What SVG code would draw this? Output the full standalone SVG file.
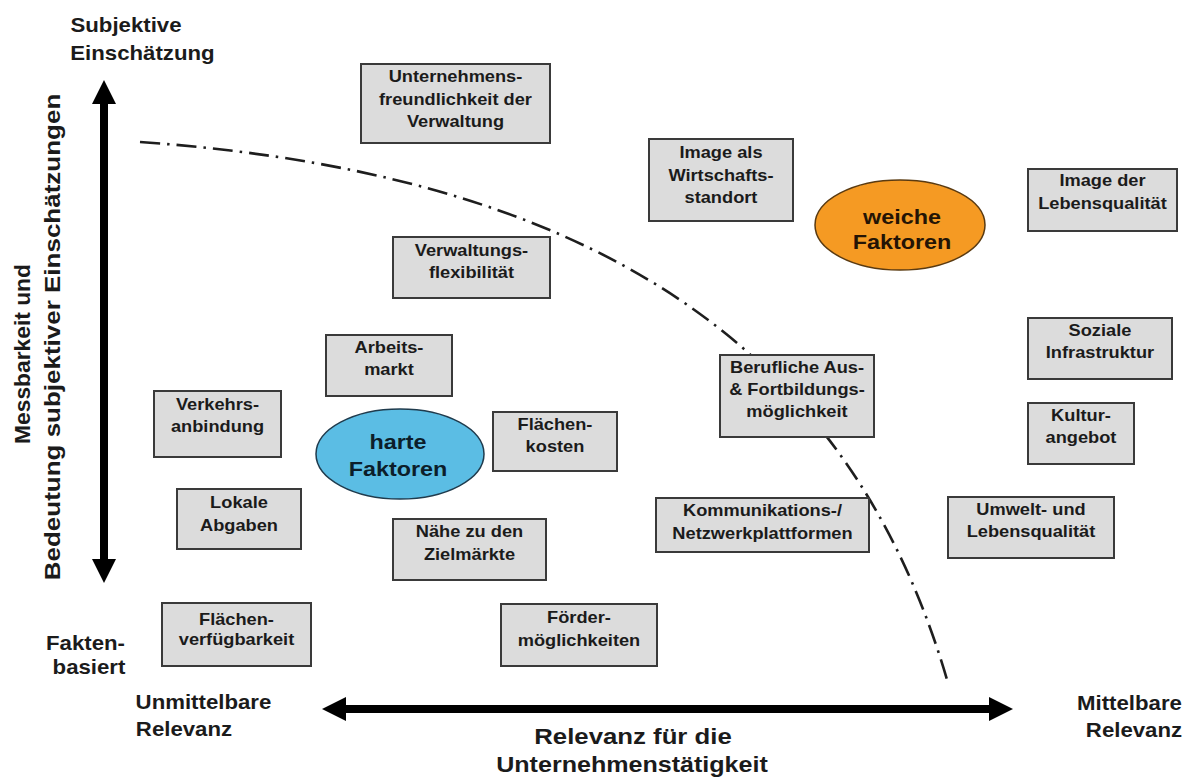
<svg xmlns="http://www.w3.org/2000/svg" width="1186" height="780" viewBox="0 0 1186 780">
<style>
  text { font-family: "Liberation Sans", Arial, sans-serif; font-weight: bold; fill: #1b1b1b; text-anchor: middle; }
  .sx { transform-box: fill-box; transform-origin: center; transform: scaleX(1.14); }
  .box rect { fill: #dcdcdc; stroke: #3a3a3a; stroke-width: 2; }
  .box text { font-size: 16px; }
  .lbl { font-size: 19.5px; }
  .big { font-size: 22px; }
  .ell { font-size: 20.5px; }
  .rot { font-size: 22.8px; }
  .axis { stroke: #000; stroke-width: 8; fill: none; marker-start: url(#ah); marker-end: url(#ah); }
  .curve { fill: none; stroke: #1e1e1e; stroke-width: 2.6; stroke-dasharray: 20 7 2.5 7; }
</style>
<defs>
  <marker id="ah" viewBox="0 0 24 24" refX="0" refY="12" markerWidth="24" markerHeight="24" markerUnits="userSpaceOnUse" orient="auto-start-reverse">
    <path d="M0,0 L24,12 L0,24 z" fill="#000"/>
  </marker>
</defs>
<rect width="1186" height="780" fill="#ffffff"/>

<g id="connectors">
  <line class="axis" x1="104" y1="104" x2="104" y2="559"/>
  <line class="axis" x1="346" y1="709" x2="989" y2="709"/>
  <path class="curve" d="M140,142 C640,177 861,383 948,683"/>
</g>

<g id="axis-labels">
  <text class="lbl sx" x="126" y="32">Subjektive</text>
  <text class="lbl sx" x="142.5" y="60">Einschätzung</text>
  <text class="lbl sx" x="85.5" y="650">Fakten-</text>
  <text class="lbl sx" x="89" y="674">basiert</text>
  <text class="lbl sx" x="203.5" y="709">Unmittelbare</text>
  <text class="lbl sx" x="184" y="736">Relevanz</text>
  <text class="lbl sx" x="1129.5" y="710">Mittelbare</text>
  <text class="lbl sx" x="1134" y="737">Relevanz</text>
  <text class="big sx" x="633" y="744" style="font-size:22.6px">Relevanz für die</text>
  <text class="big sx" x="632" y="772">Unternehmenstätigkeit</text>
  <text class="rot" transform="translate(30,354) rotate(-90)" x="0" y="0">Messbarkeit und</text>
  <text class="rot" transform="translate(60,337) rotate(-90) scale(1.14,1)" x="0" y="0">Bedeutung subjektiver Einschätzungen</text>
</g>

<g id="weiche-faktoren">
  <ellipse cx="900" cy="225" rx="85" ry="45" fill="#f59a23" stroke="#5a3a10" stroke-width="1.5"/>
  <text class="ell sx" x="902" y="224" style="fill:#241405">weiche</text>
  <text class="ell sx" x="902" y="249" style="fill:#241405">Faktoren</text>
</g>
<g id="harte-faktoren">
  <ellipse cx="400" cy="454" rx="84" ry="45" fill="#5bbde4" stroke="#1f3b4d" stroke-width="1.5"/>
  <text class="ell sx" x="398" y="449" style="fill:#0c1e2a">harte</text>
  <text class="ell sx" x="398" y="476" style="fill:#0c1e2a">Faktoren</text>
</g>

<g id="n-unternehmensfreundlichkeit" class="box">
  <rect x="361" y="64" width="189" height="79"/>
  <text class="sx" x="455.5" y="82">Unternehmens-</text>
  <text class="sx" x="455.5" y="105">freundlichkeit der</text>
  <text class="sx" x="455.5" y="127">Verwaltung</text>
</g>
<g id="n-image-wirtschaftsstandort" class="box">
  <rect x="649" y="139" width="144" height="82"/>
  <text class="sx" x="721" y="158">Image als</text>
  <text class="sx" x="721" y="181">Wirtschafts-</text>
  <text class="sx" x="721" y="203">standort</text>
</g>
<g id="n-image-lebensqualitaet" class="box">
  <rect x="1028" y="169" width="149" height="62"/>
  <text class="sx" x="1102.5" y="186">Image der</text>
  <text class="sx" x="1102.5" y="209">Lebensqualität</text>
</g>
<g id="n-verwaltungsflexibilitaet" class="box">
  <rect x="393" y="237" width="157" height="61"/>
  <text class="sx" x="471.5" y="256">Verwaltungs-</text>
  <text class="sx" x="471.5" y="278">flexibilität</text>
</g>
<g id="n-soziale-infrastruktur" class="box">
  <rect x="1028" y="318" width="144" height="61"/>
  <text class="sx" x="1100" y="336">Soziale</text>
  <text class="sx" x="1100" y="358">Infrastruktur</text>
</g>
<g id="n-arbeitsmarkt" class="box">
  <rect x="326" y="335" width="126" height="61"/>
  <text class="sx" x="389" y="353">Arbeits-</text>
  <text class="sx" x="389" y="375">markt</text>
</g>
<g id="n-berufliche-fortbildung" class="box">
  <rect x="720" y="355" width="154" height="82"/>
  <text class="sx" x="797" y="373">Berufliche Aus-</text>
  <text class="sx" x="797" y="395">&amp; Fortbildungs-</text>
  <text class="sx" x="797" y="417">möglichkeit</text>
</g>
<g id="n-verkehrsanbindung" class="box">
  <rect x="154" y="391" width="127" height="66"/>
  <text class="sx" x="217.5" y="410">Verkehrs-</text>
  <text class="sx" x="217.5" y="432">anbindung</text>
</g>
<g id="n-kulturangebot" class="box">
  <rect x="1028" y="403" width="106" height="61"/>
  <text class="sx" x="1081" y="421">Kultur-</text>
  <text class="sx" x="1081" y="443">angebot</text>
</g>
<g id="n-flaechenkosten" class="box">
  <rect x="493" y="412" width="124" height="59"/>
  <text class="sx" x="555" y="430">Flächen-</text>
  <text class="sx" x="555" y="452">kosten</text>
</g>
<g id="n-lokale-abgaben" class="box">
  <rect x="177" y="489" width="124" height="60"/>
  <text class="sx" x="239" y="508">Lokale</text>
  <text class="sx" x="239" y="531">Abgaben</text>
</g>
<g id="n-umwelt-lebensqualitaet" class="box">
  <rect x="948" y="497" width="166" height="61"/>
  <text class="sx" x="1031" y="515">Umwelt- und</text>
  <text class="sx" x="1031" y="537">Lebensqualität</text>
</g>
<g id="n-kommunikation" class="box">
  <rect x="656" y="498" width="213" height="54"/>
  <text class="sx" x="762.5" y="516">Kommunikations-/</text>
  <text class="sx" x="762.5" y="539">Netzwerkplattformen</text>
</g>
<g id="n-naehe-zielmaerkte" class="box">
  <rect x="393" y="519" width="153" height="61"/>
  <text class="sx" x="469.5" y="537">Nähe zu den</text>
  <text class="sx" x="469.5" y="560">Zielmärkte</text>
</g>
<g id="n-flaechenverfuegbarkeit" class="box">
  <rect x="162" y="603" width="149" height="63"/>
  <text class="sx" x="236.5" y="625">Flächen-</text>
  <text class="sx" x="236.5" y="645">verfügbarkeit</text>
</g>
<g id="n-foerdermoeglichkeiten" class="box">
  <rect x="501" y="604" width="156" height="62"/>
  <text class="sx" x="579" y="623">Förder-</text>
  <text class="sx" x="579" y="646">möglichkeiten</text>
</g>
</svg>
